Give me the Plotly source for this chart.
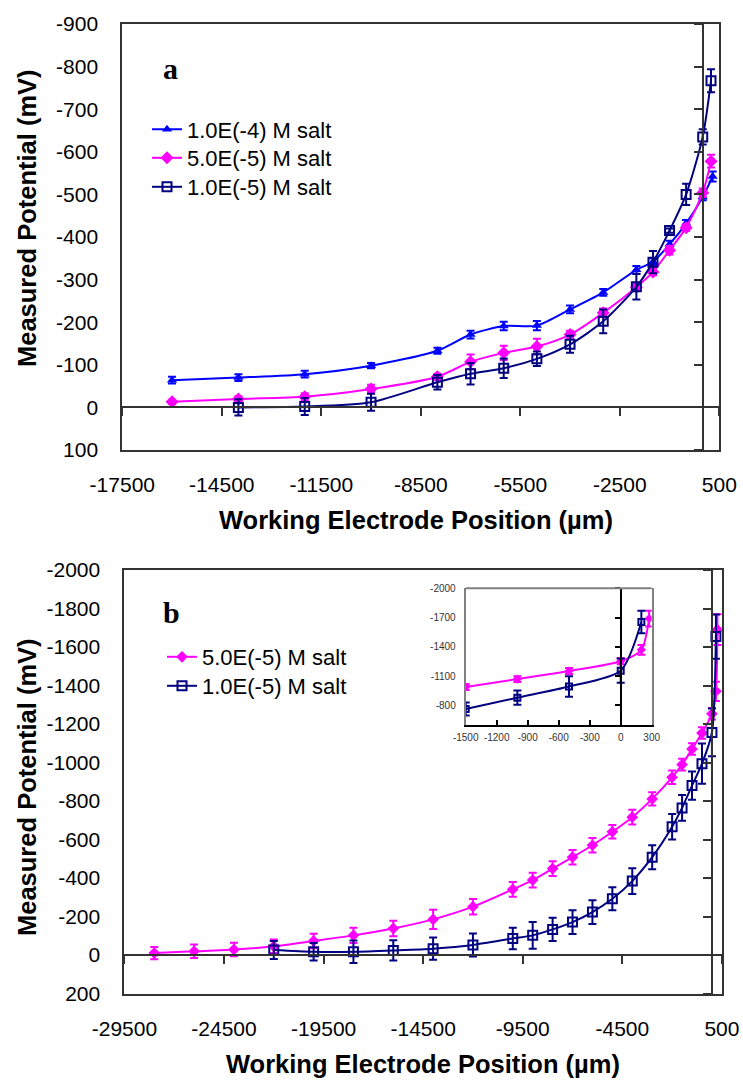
import plotly.graph_objects as go

# ---------------- data ----------------
# Panel a
pos_a_blue = [-16000, -14000, -12000, -10000, -8000, -7000, -6000, -5000, -4000, -3000, -2000, -1500, -1000, -500, 0, 300]
pot_a_blue = [-64, -70, -78, -98, -133, -171, -191, -192, -230, -270, -323, -342, -383, -432, -494, -542]
err_a_blue = [8, 8, 8, 6, 7, 9, 10, 11, 9, 8, 9, 8, 8, 8, 8, 12]

pos_a_pink = [-16000, -14000, -12000, -10000, -8000, -7000, -6000, -5000, -4000, -3000, -2000, -1500, -1000, -500, 0, 250]
pot_a_pink = [-13, -20, -25, -43, -72, -107, -128, -143, -171, -222, -282, -318, -369, -422, -504, -578]
err_a_pink = [5, 6, 8, 10, 7, 17, 17, 18, 9, 10, 8, 8, 10, 8, 10, 15]

pos_a_navy = [-14000, -12000, -10000, -8000, -7000, -6000, -5000, -4000, -3000, -2000, -1500, -1000, -500, 0, 250]
pot_a_navy = [0, -2, -12, -59, -79, -92, -114, -148, -202, -283, -341, -415, -500, -635, -767]
err_a_navy = [19, 20, 20, 17, 25, 23, 17, 20, 28, 30, 26, 5, 25, 18, 27]

# Panel b
pos_b_pink = [-28000, -26000, -24000, -22000, -20000, -18000, -16000, -14000, -12000, -10000, -9000, -8000,
              -7000, -6000, -5000, -4000, -3000, -2000, -1500, -1000, -500, 0, 200, 275]
pot_b_pink = [-10, -19, -28, -45, -73, -102, -138, -185, -251, -341, -389, -449,
              -508, -570, -640, -716, -811, -923, -989, -1070, -1153, -1253, -1370, -1690]
err_b_pink = [32, 35, 35, 35, 38, 40, 40, 50, 40, 38, 38, 38,
              38, 38, 35, 38, 35, 35, 30, 30, 30, 30, 50, 80]

pos_b_navy = [-22000, -20000, -18000, -16000, -14000, -12000, -10000, -9000, -8000, -7000, -6000, -5000,
              -4000, -3000, -2000, -1500, -1000, -500, 0, 200]
pot_b_navy = [-26, -17, -17, -24, -33, -52, -86, -102, -133, -171, -223, -292,
              -384, -508, -666, -764, -880, -994, -1156, -1654]
err_b_navy = [47, 45, 58, 52, 58, 60, 56, 69, 60, 62, 62, 60,
              67, 62, 66, 67, 73, 105, 124, 115]

names_a = ["1.0E(-4) M salt", "5.0E(-5) M salt", "1.0E(-5) M salt"]
names_b = ["5.0E(-5) M salt", "1.0E(-5) M salt"]

xticks_a = [-17500, -14500, -11500, -8500, -5500, -2500, 500]
yticks_a = [-900, -800, -700, -600, -500, -400, -300, -200, -100, 0, 100]
xticks_b = [-29500, -24500, -19500, -14500, -9500, -4500, 500]
yticks_b = [-2000, -1800, -1600, -1400, -1200, -1000, -800, -600, -400, -200, 0, 200]
xticks_i = [-1500, -1200, -900, -600, -300, 0, 300]
yticks_i = [-2000, -1700, -1400, -1100, -800]

xrange_a, yrange_a = [-17500, 500], [100, -900]
xrange_b, yrange_b = [-29500, 500], [200, -2000]
xrange_i, yrange_i = [-1500, 300], [-600, -2000]
inset_min = -1500

# ---------------- styling / layout ----------------
W, H = 743, 1080
FONT = "Arial, Liberation Sans, sans-serif"
SERIF = "Times New Roman, Liberation Serif, serif"
FRAME = "#333333"
BLUE, PINK, NAVY = "#0000FF", "#FF00FF", "#000080"


def fx(p):
    return p / W


def fy(p):
    return 1 - p / H


dom_xa = [fx(122.3), fx(719.3)]
dom_ya = [fy(450), fy(24)]
dom_xb = [fx(124.4), fx(721.9)]
dom_yb = [fy(993.5), fy(570)]
dom_xi = [fx(465.7), fx(651.7)]
dom_yi = [fy(725), fy(588.3)]


def frac(v, rng, dom):
    return dom[0] + (v - rng[0]) / (rng[1] - rng[0]) * (dom[1] - dom[0])


fig = go.Figure()


def series(x, y, e, color, symbol, size, name, xa, ya, legend=None, showlegend=True, lw=2, msize_line=0):
    marker = dict(symbol=symbol, size=size, color=color, line=dict(color=color, width=msize_line))
    return go.Scatter(
        x=x, y=y, mode="lines+markers", name=name,
        line=dict(color=color, width=lw, shape="spline", smoothing=0.7),
        marker=marker,
        error_y=dict(type="data", array=e, visible=True, color=color, thickness=2, width=4),
        xaxis=xa, yaxis=ya, showlegend=showlegend, legend=legend, hoverinfo="x+y",
    )


# Panel a (each entry in its own legend box so the row spacing can follow the reference)
fig.add_trace(series(pos_a_blue, pot_a_blue, err_a_blue, BLUE, "triangle-up", 9, names_a[0], "x", "y", "legend"))
fig.add_trace(series(pos_a_pink, pot_a_pink, err_a_pink, PINK, "diamond", 10, names_a[1], "x", "y", "legend2"))
fig.add_trace(series(pos_a_navy, pot_a_navy, err_a_navy, NAVY, "square-open", 9, names_a[2], "x", "y", "legend3",
                     msize_line=2))

# Panel b
fig.add_trace(series(pos_b_pink, pot_b_pink, err_b_pink, PINK, "diamond", 9, names_b[0], "x2", "y2", "legend4"))
fig.add_trace(series(pos_b_navy, pot_b_navy, err_b_navy, NAVY, "square-open", 9, names_b[1], "x2", "y2", "legend5",
                     msize_line=2))


# Inset (same data, zoomed)
def sub(xs, ys, es):
    keep = [i for i, v in enumerate(xs) if v >= inset_min]
    return [xs[i] for i in keep], [ys[i] for i in keep], [es[i] for i in keep]


ix, iy, ie = sub(pos_b_pink, pot_b_pink, err_b_pink)
fig.add_trace(series(ix, iy, ie, PINK, "diamond", 7, names_b[0], "x5", "y5", showlegend=False))
ix, iy, ie = sub(pos_b_navy, pot_b_navy, err_b_navy)
fig.add_trace(series(ix, iy, ie, NAVY, "square-open", 6, names_b[1], "x5", "y5", showlegend=False, msize_line=2))

# invisible anchors for the crossing-axis overlays
for xa, ya in [("x3", "y"), ("x", "y3"), ("x4", "y2"), ("x2", "y4"), ("x5", "y6")]:
    fig.add_trace(go.Scatter(x=[0], y=[0], mode="markers", marker=dict(opacity=0), showlegend=False,
                             hoverinfo="skip", xaxis=xa, yaxis=ya))

tickfont = dict(family=FONT, size=21, color="black")


def main_axis(dom, rng, ticks, anchor, standoff):
    return dict(domain=dom, range=rng, tickmode="array", tickvals=ticks, ticktext=[str(t) for t in ticks],
                ticks="", showline=True, mirror=True, linecolor=FRAME, linewidth=2, showgrid=False,
                zeroline=False, anchor=anchor, tickfont=tickfont, ticklabelstandoff=standoff, fixedrange=True,
                automargin=False)


def cross_axis(over, rng, ticks, pos, side, ticklen=8, color=FRAME):
    return dict(overlaying=over, anchor="free", position=pos, side=side, range=rng, tickmode="array",
                tickvals=ticks, showticklabels=False, ticks="outside", ticklen=ticklen, tickwidth=2,
                tickcolor=color, showline=True, linecolor=color, linewidth=2, showgrid=False, zeroline=False,
                layer="above traces", fixedrange=True, automargin=False)


def legend_box(x_px, y_px):
    return dict(x=fx(x_px), y=fy(y_px), xanchor="left", yanchor="middle", bgcolor="rgba(0,0,0,0)",
                font=dict(family=FONT, size=22, color="black"), itemwidth=30, tracegroupgap=0,
                borderwidth=0)


fig.update_layout(
    width=W, height=H, margin=dict(l=0, r=0, t=0, b=0, pad=0, autoexpand=False),
    paper_bgcolor="white", plot_bgcolor="white",
    font=dict(family=FONT, color="black"),
    xaxis=main_axis(dom_xa, xrange_a, xticks_a, "y", 15),
    yaxis=main_axis(dom_ya, yrange_a, yticks_a, "x", 18),
    xaxis2=main_axis(dom_xb, xrange_b, xticks_b, "y2", 15),
    yaxis2=main_axis(dom_yb, yrange_b, yticks_b, "x2", 18),
    xaxis3=cross_axis("x", xrange_a, xticks_a, frac(0, yrange_a, dom_ya), "bottom"),
    yaxis3=cross_axis("y", yrange_a, yticks_a, frac(0, xrange_a, dom_xa), "left"),
    xaxis4=cross_axis("x2", xrange_b, xticks_b, frac(0, yrange_b, dom_yb), "bottom"),
    yaxis4=cross_axis("y2", yrange_b, yticks_b, frac(0, xrange_b, dom_xb), "left"),
    xaxis5=dict(domain=dom_xi, range=xrange_i, tickmode="array", tickvals=xticks_i,
                ticktext=[str(t) for t in xticks_i], ticks="inside", ticklen=5, tickwidth=2, tickcolor="black",
                showline=True, linecolor="black", linewidth=2, mirror=False, showgrid=False, zeroline=False,
                anchor="y5", tickfont=dict(family=FONT, size=10, color="#333333"), ticklabelstandoff=2,
                fixedrange=True, automargin=False),
    yaxis5=dict(domain=dom_yi, range=yrange_i, tickmode="array", tickvals=yticks_i,
                ticktext=[str(t) for t in yticks_i], ticks="", showline=True, linecolor="#808080",
                linewidth=2, mirror=True, showgrid=False, zeroline=False, anchor="x5",
                tickfont=dict(family=FONT, size=10, color="#333333"), ticklabelstandoff=6, fixedrange=True,
                automargin=False),
    yaxis6=cross_axis("y5", yrange_i, yticks_i, frac(0, xrange_i, dom_xi), "left", ticklen=5, color="black"),
    legend=legend_box(147, 129.5),
    legend2=legend_box(147, 158),
    legend3=legend_box(147, 187),
    legend4=legend_box(162, 657),
    legend5=legend_box(162, 686),
    showlegend=True,
)

# inset top border (gray)
fig.add_shape(type="line", xref="x5 domain", yref="y5 domain", x0=0, x1=1, y0=1, y1=1,
              line=dict(color="#808080", width=2))

title_font = dict(family=FONT, size=25.5, color="black")
ann = [
    dict(text="<b>a</b>", x=fx(170), y=fy(68), font=dict(family=SERIF, size=30, color="black")),
    dict(text="<b>b</b>", x=fx(171), y=fy(612), font=dict(family=SERIF, size=30, color="black")),
    dict(text="<b>Working Electrode Position (µm)</b>", x=fx(416), y=fy(520), font=title_font),
    dict(text="<b>Working Electrode Position (µm)</b>", x=fx(423), y=fy(1064), font=title_font),
    dict(text="<b>Measured Potential (mV)</b>", x=fx(27), y=fy(218), textangle=-90, font=title_font),
    dict(text="<b>Measured Potential (mV)</b>", x=fx(27), y=fy(787), textangle=-90, font=title_font),
]
for a in ann:
    fig.add_annotation(xref="paper", yref="paper", showarrow=False, xanchor="center", yanchor="middle", **a)

fig.write_html("out.html")
